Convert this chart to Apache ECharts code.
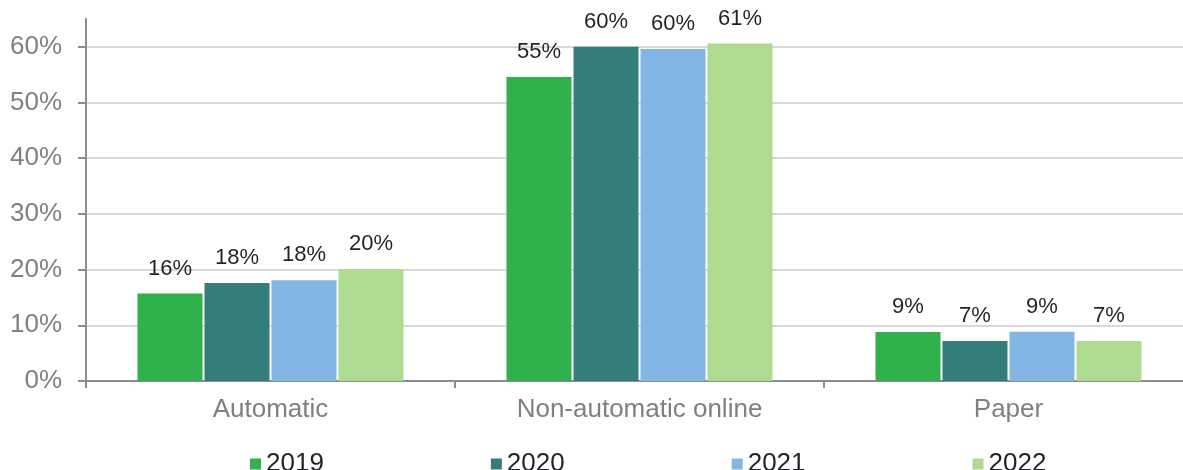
<!DOCTYPE html>
<html>
<head>
<meta charset="utf-8">
<script src="https://cdn.jsdelivr.net/npm/echarts@6/dist/echarts.min.js"></script>
<style>
html,body{margin:0;padding:0;background:#fff;overflow:hidden;width:1183px;height:470px;}
#chart{width:1193px;height:470px;}
</style>
</head>
<body>
<div id="chart"></div>
<script>
const categories = ['Automatic', 'Non-automatic online', 'Paper'];
const seriesNames = ['2019', '2020', '2021', '2022'];
const values2019 = [15.7, 54.6, 8.8];
const values2020 = [17.6, 60.0, 7.2];
const values2021 = [18.1, 59.6, 8.85];
const values2022 = [20.1, 60.6, 7.2];
const yTicks = [0, 10, 20, 30, 40, 50, 60];

const allValues = [values2019, values2020, values2021, values2022];
const colors = ['#2FB24B', '#337D7B', '#82B6E4', '#AEDB8F'];
const FONT = '"Liberation Sans", Arial, sans-serif';

const chart = echarts.init(document.getElementById('chart'), null, {renderer: 'canvas'});
chart.setOption({
  animation: false,
  textStyle: {fontFamily: FONT},
  grid: {left: 86, right: 0, top: 19, bottom: 89, containLabel: false},
  legend: {
    data: seriesNames,
    left: 245,
    top: 446,
    icon: 'rect',
    itemWidth: 11,
    itemHeight: 11,
    itemGap: 167,
    textStyle: {fontSize: 26, color: '#1f2328', fontFamily: FONT}
  },
  xAxis: {
    type: 'category',
    data: categories,
    axisLine: {lineStyle: {color: '#8c8c8c', width: 2}},
    axisTick: {show: true, length: 7, lineStyle: {color: '#8c8c8c', width: 2}},
    axisLabel: {fontSize: 26, color: '#808080', margin: 16, fontFamily: FONT}
  },
  yAxis: {
    type: 'value',
    min: 0,
    max: 65,
    interval: 10,
    axisLine: {show: true, lineStyle: {color: '#8c8c8c', width: 2}},
    axisTick: {show: true, length: 8, customValues: yTicks, lineStyle: {color: '#8c8c8c', width: 2}},
    axisLabel: {fontSize: 26, color: '#808080', margin: 24, customValues: yTicks,
      formatter: v => v + '%', fontFamily: FONT},
    splitLine: {show: true, lineStyle: {color: '#d9d9d9', width: 2}}
  },
  series: seriesNames.map((name, i) => ({
    name: name,
    type: 'bar',
    data: allValues[i],
    barWidth: 65,
    barGap: '3.08%',
    itemStyle: {color: colors[i]},
    label: {
      show: true,
      position: 'top',
      distance: 14,
      fontSize: 22,
      color: '#1f2328',
      fontFamily: FONT,
      formatter: p => Math.round(p.value) + '%'
    }
  }))
});
</script>
</body>
</html>
